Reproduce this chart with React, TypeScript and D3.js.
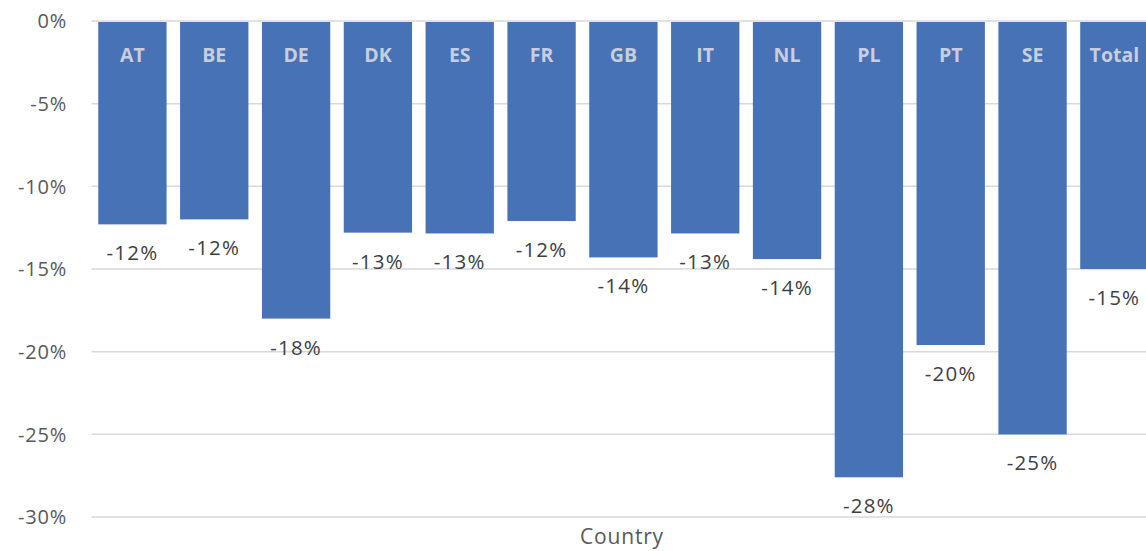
import React from "react";
import * as d3 from "d3";

const categories = ["AT", "BE", "DE", "DK", "ES", "FR", "GB", "IT", "NL", "PL", "PT", "SE", "Total"];
const values = [-12.3, -12.0, -18.0, -12.8, -12.85, -12.1, -14.3, -12.85, -14.4, -27.6, -19.6, -25.0, -15.0];
const labels = ["-12%", "-12%", "-18%", "-13%", "-13%", "-12%", "-14%", "-13%", "-14%", "-28%", "-20%", "-25%", "-15%"];
const yTicks = [0, -5, -10, -15, -20, -25, -30];
const xTitle = "Country";

const W = 1146;
const H = 551;
const FONT = "'Open Sans', 'Noto Sans', sans-serif";

export default function App() {
  const x = d3
    .scaleBand<string>()
    .domain(categories)
    .range([91.5, 1155.3])
    .paddingInner(0.165)
    .paddingOuter(0.0825);
  const y = d3.scaleLinear().domain([0, -30]).range([21, 517]);
  const bw = x.bandwidth();

  return (
    <svg
      width={W}
      height={H}
      style={{ position: "absolute", left: 0, top: 0, background: "#fff" }}
      fontFamily={FONT}
    >
      {yTicks.map((t) => (
        <g key={t}>
          <line x1={91.5} x2={W} y1={y(t)} y2={y(t)} stroke="#d9d9d9" strokeWidth={1.5} />
          <text
            x={67}
            y={y(t) + 2}
            textAnchor="end"
            dominantBaseline="middle"
            fontSize={20}
            fill="#595959"
            letterSpacing={0.8}
          >
            {`${t}%`}
          </text>
        </g>
      ))}
      {categories.map((c, i) => {
        const x0 = x(c) as number;
        const yb = y(values[i]);
        return (
          <g key={c}>
            <rect x={x0} y={y(0) + 1} width={bw} height={yb - y(0) - 1} fill="#4772b6" />
            <text
              x={x0 + bw / 2}
              y={62}
              textAnchor="middle"
              fontSize={19.5}
              fontWeight={700}
              fill="#c6cedf"
            >
              {c}
            </text>
            <text
              x={x0 + bw / 2}
              y={yb + 36}
              textAnchor="middle"
              fontSize={20.5}
              fill="#404040"
              letterSpacing={1.2}
            >
              {labels[i]}
            </text>
          </g>
        );
      })}
      <text x={622} y={544} textAnchor="middle" fontSize={21} fill="#595959" letterSpacing={0.8}>
        {xTitle}
      </text>
    </svg>
  );
}
